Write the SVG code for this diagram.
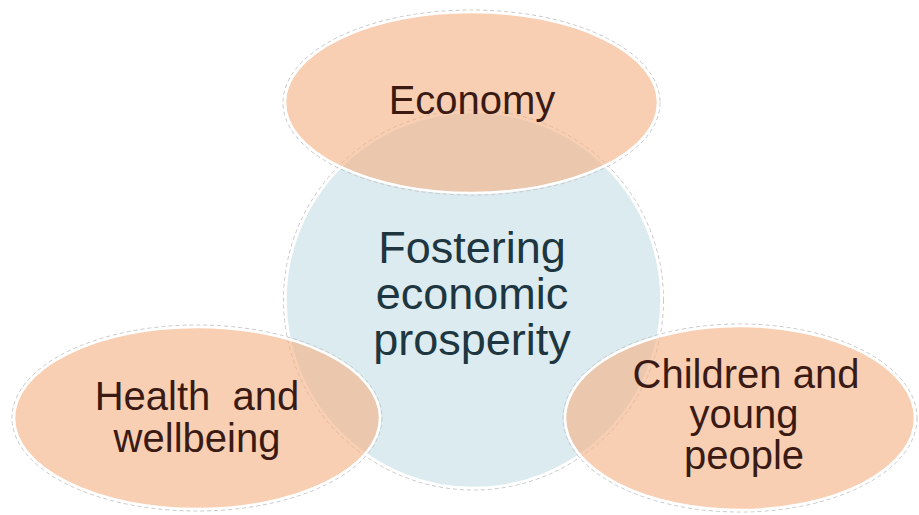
<svg xmlns="http://www.w3.org/2000/svg" width="919" height="515" viewBox="0 0 919 515">
  <style>
    .halo { fill: none; stroke: #c8c8c8; stroke-width: 1; stroke-dasharray: 4 3; }
    .hub { fill: #DCEBF0; stroke: #ffffff; stroke-width: 2.5; }
    .petal { fill: #F3AF80; fill-opacity: 0.6; stroke: #ffffff; stroke-width: 2.5; }
    .hubtext { font-family: "Liberation Sans", Arial, sans-serif; font-size: 45px; fill: #1E3640; text-anchor: middle; }
    .petaltext { font-family: "Liberation Sans", Arial, sans-serif; font-size: 40px; fill: #3A1A12; text-anchor: middle; }
  </style>
  <rect width="919" height="515" fill="#ffffff"/>
  <g id="node-center">
    <circle class="halo" cx="473.5" cy="300" r="190"/>
    <circle class="hub" cx="473.5" cy="300" r="188"/>
    <text class="hubtext" x="472" y="263">Fostering</text>
    <text class="hubtext" x="472" y="309">economic</text>
    <text class="hubtext" x="472" y="355">prosperity</text>
  </g>
  <g id="node-economy">
    <ellipse class="halo" cx="471.5" cy="102.5" rx="188.5" ry="92.5"/>
    <ellipse class="petal" cx="471.5" cy="102.5" rx="186.5" ry="90.5"/>
    <text class="petaltext" x="472" y="114">Economy</text>
  </g>
  <g id="node-health">
    <ellipse class="halo" cx="197" cy="418" rx="185" ry="93"/>
    <ellipse class="petal" cx="197" cy="418" rx="183" ry="91"/>
    <text class="petaltext" x="197" y="410" xml:space="preserve">Health  and</text>
    <text class="petaltext" x="197" y="452">wellbeing</text>
  </g>
  <g id="node-children">
    <ellipse class="halo" cx="740" cy="418" rx="177" ry="94"/>
    <ellipse class="petal" cx="740" cy="418" rx="175" ry="92"/>
    <text class="petaltext" x="746" y="388">Children and</text>
    <text class="petaltext" x="744" y="428">young</text>
    <text class="petaltext" x="744" y="469">people</text>
  </g>
</svg>
